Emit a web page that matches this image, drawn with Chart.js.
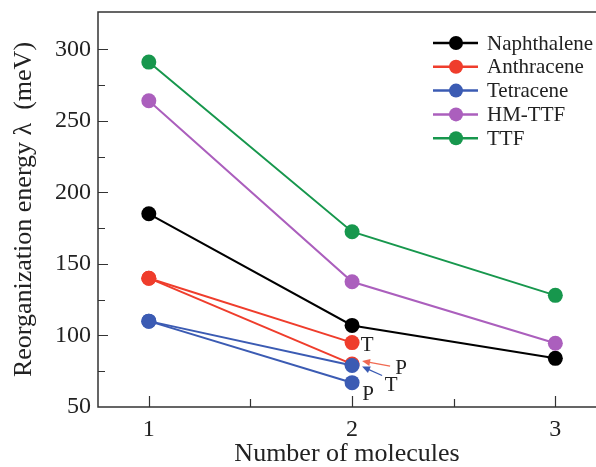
<!DOCTYPE html>
<html>
<head>
<meta charset="utf-8">
<script src="https://cdn.jsdelivr.net/npm/chart.js@4"></script>
<style>
  html, body { margin: 0; padding: 0; background: #fff; }
  #chart { display: block; }
</style>
</head>
<body>
<canvas id="chart" width="596" height="467"></canvas>
<script>
// x values and the series (meV)
const moleculeCounts = [1, 2, 3];
const naphthalene = [185, 107, 84];
const anthraceneT = [140, 95];
const anthraceneP = [140, 80];
const tetraceneT = [110, 79];
const tetraceneP = [110, 67];
const hmTtf = [264, 137.5, 94.5];
const ttf = [291, 172.5, 128];

const xTickValues = [1, 1.5, 2, 2.5, 3];
const xTickLabels = [1, 2, 3];
const yTickValues = [50, 75, 100, 125, 150, 175, 200, 225, 250, 275, 300];
const yTickLabels = [50, 100, 150, 200, 250, 300];

const SERIF = "'Liberation Serif', 'Times New Roman', serif";

const toPoints = (vals) => vals.map((v, i) => ({ x: moleculeCounts[i], y: v }));

const makeSet = (label, vals, color, order, legendHidden) => ({
    label: label,
    data: toPoints(vals),
    borderColor: color,
    backgroundColor: color,
    borderWidth: 2,
    pointRadius: 7.5,
    pointBorderWidth: 0,
    pointHoverRadius: 7.5,
    tension: 0,
    order: order,
    legendHidden: !!legendHidden,
});

const datasets = [
    makeSet("Naphthalene", naphthalene, "#000000", 4),
    makeSet("Anthracene", anthraceneT, "#ef3d2c", 2),
    makeSet("Anthracene P", anthraceneP, "#ef3d2c", 2, true),
    makeSet("Tetracene", tetraceneT, "#3b5bb3", 1),
    makeSet("Tetracene P", tetraceneP, "#3b5bb3", 1, true),
    makeSet("HM-TTF", hmTtf, "#ab5fbd", 3),
    makeSet("TTF", ttf, "#17974d", 5),
];

// frame (left, bottom, top) with inward tick marks
const framePlugin = {
    id: "frame",
    afterDraw(chart) {
        const { ctx, chartArea: a, scales } = chart;
        ctx.save();
        ctx.strokeStyle = "#333";
        ctx.lineWidth = 1.5;
        ctx.beginPath();
        ctx.moveTo(a.right, a.top);
        ctx.lineTo(a.left, a.top);
        ctx.lineTo(a.left, a.bottom);
        ctx.lineTo(a.right, a.bottom);
        ctx.stroke();

        ctx.lineWidth = 1.2;
        ctx.beginPath();
        scales.y.ticks.forEach((t) => {
            if (t.value <= scales.y.min) return;
            const y = Math.round(scales.y.getPixelForValue(t.value)) + 0.5;
            const len = yTickLabels.includes(t.value) ? 10 : 7;
            ctx.moveTo(a.left, y);
            ctx.lineTo(a.left + len, y);
        });
        scales.x.ticks.forEach((t) => {
            const x = Math.round(scales.x.getPixelForValue(t.value)) + 0.5;
            const len = xTickLabels.includes(t.value) ? 11 : 8;
            ctx.moveTo(x, a.bottom);
            ctx.lineTo(x, a.bottom - len);
        });
        ctx.stroke();
        ctx.restore();
    },
};

// legend box in the upper right of the plot
const legendPlugin = {
    id: "innerLegend",
    afterDraw(chart) {
        const { ctx, chartArea: a } = chart;
        const items = chart.data.datasets.filter((d) => !d.legendHidden);
        const x0 = a.right - 163;
        let y = 43;
        ctx.save();
        ctx.font = "21px " + SERIF;
        ctx.textBaseline = "middle";
        ctx.textAlign = "left";
        items.forEach((d) => {
            ctx.strokeStyle = d.borderColor;
            ctx.lineWidth = 2.5;
            ctx.beginPath();
            ctx.moveTo(x0, y);
            ctx.lineTo(x0 + 45, y);
            ctx.stroke();
            ctx.fillStyle = d.borderColor;
            ctx.beginPath();
            ctx.arc(x0 + 23, y, 7, 0, Math.PI * 2);
            ctx.fill();
            ctx.fillStyle = "#222";
            ctx.fillText(d.label, x0 + 54, y + 1);
            y += 23.8;
        });
        ctx.restore();
    },
};

// T / P labels and arrows near the dimer points
const notePlugin = {
    id: "notes",
    afterDraw(chart) {
        const { ctx } = chart;
        const pt = (i) => chart.getDatasetMeta(i).data[1];
        const redT = pt(1), redP = pt(2), blueT = pt(3), blueP = pt(4);

        const arrow = (x1, y1, x2, y2, color) => {
            const ang = Math.atan2(y2 - y1, x2 - x1);
            ctx.strokeStyle = color;
            ctx.fillStyle = color;
            ctx.lineWidth = 1.3;
            ctx.beginPath();
            ctx.moveTo(x1, y1);
            ctx.lineTo(x2 - 5 * Math.cos(ang), y2 - 5 * Math.sin(ang));
            ctx.stroke();
            ctx.beginPath();
            ctx.moveTo(x2, y2);
            ctx.lineTo(x2 - 8 * Math.cos(ang) + 3.5 * Math.sin(ang), y2 - 8 * Math.sin(ang) - 3.5 * Math.cos(ang));
            ctx.lineTo(x2 - 8 * Math.cos(ang) - 3.5 * Math.sin(ang), y2 - 8 * Math.sin(ang) + 3.5 * Math.cos(ang));
            ctx.closePath();
            ctx.fill();
        };

        ctx.save();
        ctx.font = "21px " + SERIF;
        ctx.textBaseline = "middle";
        ctx.textAlign = "center";
        ctx.fillStyle = "#222";
        ctx.fillText("T", redT.x + 15, redT.y + 3);
        ctx.fillText("P", redP.x + 49, redP.y + 4);
        ctx.fillText("T", blueT.x + 39, blueT.y + 20);
        ctx.fillText("P", blueP.x + 16, blueP.y + 12);
        arrow(redP.x + 38, redP.y + 2, redP.x + 10, redP.y - 3, "#f06a52");
        arrow(blueT.x + 30, blueT.y + 10, blueT.x + 10, blueT.y + 1, "#3b5bb3");
        ctx.restore();
    },
};

const ctx = document.getElementById("chart").getContext("2d");

new Chart(ctx, {
    type: "line",
    data: { datasets: datasets },
    options: {
        responsive: false,
        animation: false,
        devicePixelRatio: 1,
        layout: { autoPadding: false, padding: { top: 12, right: 0, left: 0, bottom: 0 } },
        plugins: {
            legend: { display: false },
            tooltip: { enabled: false },
        },
        scales: {
            x: {
                type: "linear",
                min: 0.75,
                max: 3.2,
                afterBuildTicks: (scale) => {
                    scale.ticks = xTickValues.map((v) => ({ value: v }));
                },
                afterFit: (scale) => {
                    scale.height = 60;
                    scale.paddingLeft = 0;
                    scale.paddingRight = 0;
                },
                grid: { display: false, drawTicks: false },
                border: { display: false },
                ticks: {
                    autoSkip: false,
                    maxRotation: 0,
                    padding: 8,
                    color: "#222",
                    font: { family: SERIF, size: 24 },
                    callback: (v) => (xTickLabels.includes(v) ? v : ""),
                },
                title: {
                    display: true,
                    text: "Number of molecules",
                    color: "#222",
                    padding: { top: 0, bottom: 0 },
                    font: { family: SERIF, size: 26, lineHeight: 1 },
                },
            },
            y: {
                min: 50,
                max: 326,
                afterBuildTicks: (scale) => {
                    scale.ticks = yTickValues.map((v) => ({ value: v }));
                },
                afterFit: (scale) => {
                    scale.width = 98;
                    scale.paddingTop = 0;
                    scale.paddingBottom = 0;
                },
                grid: { display: false, drawTicks: false },
                border: { display: false },
                ticks: {
                    autoSkip: false,
                    padding: 7,
                    color: "#222",
                    font: { family: SERIF, size: 24 },
                    callback: (v) => (yTickLabels.includes(v) ? v : ""),
                },
                title: {
                    display: true,
                    text: "Reorganization energy λ  (meV)",
                    color: "#222",
                    padding: { top: 11, bottom: 0 },
                    font: { family: SERIF, size: 26, lineHeight: 1 },
                },
            },
        },
    },
    plugins: [framePlugin, legendPlugin, notePlugin],
});
</script>
</body>
</html>
